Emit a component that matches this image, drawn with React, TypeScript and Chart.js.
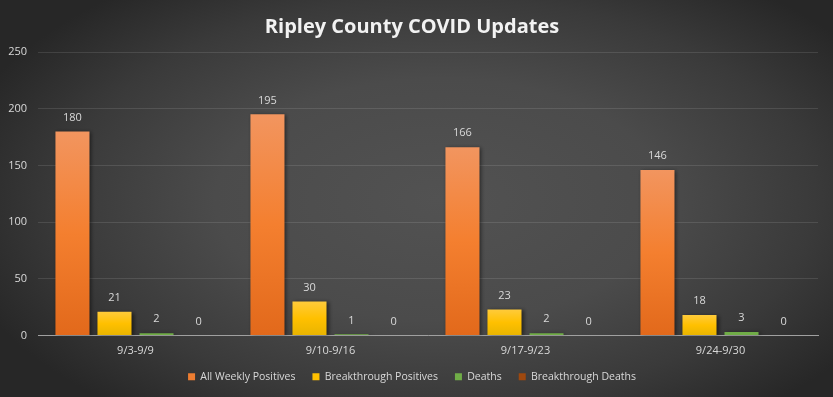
import React, { useEffect, useRef } from "react";
import { Chart, registerables } from "chart.js";

Chart.register(...registerables);

const categories = ["9/3-9/9", "9/10-9/16", "9/17-9/23", "9/24-9/30"];
const allWeeklyPositives = [180, 195, 166, 146];
const breakthroughPositives = [21, 30, 23, 18];
const deaths = [2, 1, 2, 3];
const breakthroughDeaths = [0, 0, 0, 0];
const seriesNames = ["All Weekly Positives", "Breakthrough Positives", "Deaths", "Breakthrough Deaths"];
const legendColors = ["#ED7D31", "#FFC000", "#70AD47", "#9E480E"];
const yMin = 0;
const yMax = 250;
const yStep = 50;
const titleText = "Ripley County COVID Updates";

const FONT = "'Open Sans', 'DejaVu Sans', sans-serif";

function barGradient(stops: string[]) {
  return (ctx: any) => {
    const chart = ctx.chart;
    const ys = chart.scales && chart.scales.y;
    if (!ys || ctx.type !== "data") return stops[1];
    const v = ctx.raw as number;
    const top = ys.getPixelForValue(v);
    const base = ys.getPixelForValue(0);
    if (!isFinite(top) || !isFinite(base) || Math.abs(base - top) < 1) return stops[stops.length - 1];
    const g = chart.ctx.createLinearGradient(0, top, 0, base);
    g.addColorStop(0, stops[0]);
    g.addColorStop(0.5, stops[1]);
    g.addColorStop(1, stops[2]);
    return g;
  };
}

const bgPlugin = {
  id: "bgPlugin",
  beforeDraw(chart: any) {
    const { ctx, width, height } = chart;
    ctx.save();
    const cx = 440, cy = 200, rx = 500, ry = 270;
    ctx.translate(cx, cy);
    ctx.scale(rx / ry, 1);
    const g = ctx.createRadialGradient(0, 0, 0, 0, 0, ry);
    g.addColorStop(0, "#525252");
    g.addColorStop(0.45, "#4b4b4b");
    g.addColorStop(0.75, "#3a3a3a");
    g.addColorStop(1, "#272727");
    ctx.fillStyle = g;
    ctx.fillRect(-cx * ry / rx, -cy, width * ry / rx, height);
    ctx.restore();
  },
};

const labelPlugin = {
  id: "labelPlugin",
  beforeDatasetsDraw(chart: any) {
    const ctx = chart.ctx;
    ctx.save();
    ctx.shadowColor = "rgba(0,0,0,0.5)";
    ctx.shadowBlur = 4;
    ctx.shadowOffsetX = 2;
    ctx.shadowOffsetY = 1;
  },
  afterDatasetsDraw(chart: any) {
    const ctx = chart.ctx;
    ctx.restore();
    ctx.save();
    ctx.font = `11px ${FONT}`;
    ctx.fillStyle = "#d9d9d9";
    ctx.textAlign = "center";
    ctx.textBaseline = "middle";
    chart.data.datasets.forEach((ds: any, di: number) => {
      const meta = chart.getDatasetMeta(di);
      meta.data.forEach((el: any, i: number) => {
        ctx.fillText(String(ds.data[i]), el.x, el.y - 14);
      });
    });
    ctx.restore();
  },
};

export default function App() {
  const ref = useRef<HTMLCanvasElement | null>(null);
  useEffect(() => {
    if (!ref.current) return;
    const chart = new Chart(ref.current, {
      type: "bar",
      data: {
        labels: categories,
        datasets: [
          { label: seriesNames[0], data: allWeeklyPositives, backgroundColor: barGradient(["#F2955F", "#F47F2F", "#E2691B"]) as any },
          { label: seriesNames[1], data: breakthroughPositives, backgroundColor: barGradient(["#FFCB3B", "#FFC000", "#E8B400"]) as any },
          { label: seriesNames[2], data: deaths, backgroundColor: "#70AD47" },
          { label: seriesNames[3], data: breakthroughDeaths, backgroundColor: "#9E480E" },
        ],
      },
      options: {
        animation: false,
        responsive: false,
        maintainAspectRatio: false,
        layout: { padding: { left: 6, right: 15, top: 0, bottom: 5 } },
        datasets: { bar: { categoryPercentage: 0.862, barPercentage: 0.81 } },
        scales: {
          x: {
            grid: { display: false, drawTicks: false },
            border: { display: true, color: "#a0a0a0", width: 1 },
            ticks: { color: "#d9d9d9", font: { family: FONT, size: 11 }, padding: 9 },
            afterFit: (s: any) => { s.height = 19; },
          },
          y: {
            min: yMin,
            max: yMax,
            grid: { color: "rgba(255,255,255,0.11)", drawTicks: false },
            border: { display: false },
            ticks: { stepSize: yStep, color: "#d9d9d9", font: { family: FONT, size: 11 }, padding: 11 },
            afterFit: (s: any) => { s.width = 32; },
          },
        },
        plugins: {
          title: {
            display: true,
            text: titleText,
            color: "#f2f2f2",
            font: { family: FONT, size: 20, weight: "bold" as any },
            padding: { top: 15, bottom: 13 },
          },
          legend: {
            position: "bottom",
            labels: {
              color: "#d9d9d9",
              font: { family: FONT, size: 10.5 },
              boxWidth: 7,
              boxHeight: 7,
              padding: 17,
              generateLabels: (chart: any) =>
                chart.data.datasets.map((ds: any, i: number) => ({
                  text: ds.label,
                  fillStyle: legendColors[i],
                  strokeStyle: legendColors[i],
                  lineWidth: 0,
                  hidden: false,
                  datasetIndex: i,
                  fontColor: "#d9d9d9",
                })),
            },
          },
          tooltip: { enabled: false },
        },
      },
      plugins: [bgPlugin, labelPlugin],
    });
    return () => chart.destroy();
  }, []);
  return (
    <div style={{ position: "fixed", left: 0, top: 0, width: 833, height: 397 }}>
      <canvas ref={ref} width={833} height={397} style={{ width: 833, height: 397, display: "block" }} />
    </div>
  );
}
